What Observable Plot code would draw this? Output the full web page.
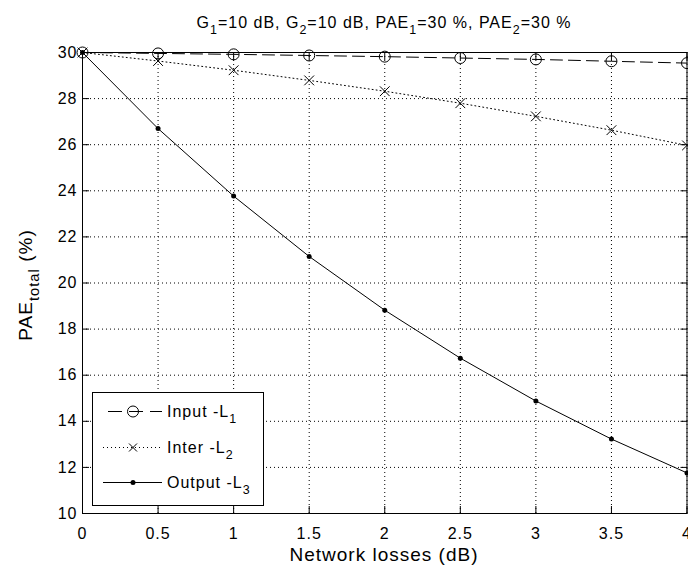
<!DOCTYPE html>
<html>
<head>
<meta charset="utf-8">
<script src="https://cdn.jsdelivr.net/npm/d3@7"></script>
<script src="https://cdn.jsdelivr.net/npm/@observablehq/plot@0.6"></script>
<style>
  html, body { margin: 0; padding: 0; background: white; }
  #chart svg { display: block; }
</style>
</head>
<body>
<div id="chart"></div>
<script>
// Network losses (dB) on the x axis
const losses = [0, 0.5, 1, 1.5, 2, 2.5, 3, 3.5, 4];
// Total PAE (%) when the loss sits at the input, between stages, or at the output
const inputL1 = [30, 29.96, 29.92, 29.87, 29.82, 29.76, 29.7, 29.62, 29.54];
const interL2 = [30, 29.63, 29.23, 28.79, 28.32, 27.8, 27.23, 26.63, 25.97];
const outputL3 = [30, 26.7, 23.77, 21.15, 18.82, 16.74, 14.88, 13.23, 11.76];
// Axis ticks
const xTicks = [0, 0.5, 1, 1.5, 2, 2.5, 3, 3.5, 4];
const yTicks = [10, 12, 14, 16, 18, 20, 22, 24, 26, 28, 30];

const rows = (ys) => losses.map((x, i) => ({x, y: ys[i]}));
const dIn = rows(inputL1), dInter = rows(interL2), dOut = rows(outputL3);

const font = "'Liberation Sans', Arial, Helvetica, sans-serif";
const grid = {stroke: "black", strokeOpacity: 1, strokeWidth: 1, strokeDasharray: "1,3"};
const blank = () => "";

const svg = Plot.plot({
  width: 688,
  height: 567,
  marginLeft: 82,
  marginRight: 1.5,
  marginTop: 52,
  marginBottom: 54,
  x: {domain: [0, 4], label: null},
  y: {domain: [10, 30], label: null},
  style: {fontFamily: font, fontSize: "16px", color: "black", background: "white", letterSpacing: "1px"},
  marks: [
    Plot.gridX(xTicks, grid),
    Plot.gridY(yTicks, grid),
    // inward tick marks on all four sides
    Plot.axisX(xTicks, {anchor: "bottom", tickSize: -7, tickFormat: blank, label: null}),
    Plot.axisX(xTicks, {anchor: "top", tickSize: -7, tickFormat: blank, label: null}),
    Plot.axisY(yTicks, {anchor: "left", tickSize: -7, tickFormat: blank, label: null}),
    Plot.axisY(yTicks, {anchor: "right", tickSize: -7, tickFormat: blank, label: null}),
    // tick labels
    Plot.axisX(xTicks, {anchor: "bottom", tickSize: 0, tickPadding: 14, label: null, fontSize: 16, tickFormat: d => String(d)}),
    Plot.axisY(yTicks, {anchor: "left", tickSize: 0, tickPadding: 5, label: null, fontSize: 16, tickFormat: d => String(d)}),
    Plot.frame({stroke: "black", strokeWidth: 1}),
    // Input -L1: dashed with open circles
    Plot.line(dIn, {x: "x", y: "y", stroke: "black", strokeWidth: 1, strokeDasharray: "12,6"}),
    Plot.dot(dIn, {x: "x", y: "y", r: 5.5, stroke: "black", fill: "none", strokeWidth: 1}),
    // Inter -L2: dotted with crosses
    Plot.line(dInter, {x: "x", y: "y", stroke: "black", strokeWidth: 1, strokeDasharray: "1,3"}),
    Plot.dot(dInter, {x: "x", y: "y", symbol: "times", r: 4.5, stroke: "black", strokeWidth: 1}),
    // Output -L3: solid with filled dots
    Plot.line(dOut, {x: "x", y: "y", stroke: "black", strokeWidth: 1}),
    Plot.dot(dOut, {x: "x", y: "y", r: 2.5, fill: "black", stroke: "none"})
  ]
});

const s = d3.select(svg);

// text with a subscript part
function subText(g, parts, attrs, size) {
  const t = g.append("text").attr("font-family", font).attr("font-size", size)
    .attr("letter-spacing", "1px").attr("fill", "black").attr("text-anchor", "start");
  for (const [k, v] of Object.entries(attrs)) t.attr(k, v);
  let down = false;
  for (const [str, sub] of parts) {
    const ts = t.append("tspan").text(str);
    if (sub && !down) { ts.attr("dy", size * 0.35).attr("font-size", size * 0.78); down = true; }
    else if (sub) { ts.attr("font-size", size * 0.78); }
    else if (!sub && down) { ts.attr("dy", -size * 0.35); down = false; }
  }
  return t;
}

// title
subText(s, [["G", 0], ["1", 1], ["=10 dB, G", 0], ["2", 1], ["=10 dB, PAE", 0], ["1", 1], ["=30 %, PAE", 0], ["2", 1], ["=30 %", 0]],
  {x: 384, y: 28, "text-anchor": "middle"}, 16);

// x axis title
subText(s, [["Network losses (dB)", 0]], {x: 384, y: 561, "text-anchor": "middle"}, 19);

// y axis title
subText(s, [["PAE", 0], ["total", 1], [" (%)", 0]],
  {transform: "translate(32,285) rotate(-90)", "text-anchor": "middle"}, 19);

// legend
const lg = s.append("g");
lg.append("rect").attr("x", 92.5).attr("y", 392.5).attr("width", 171).attr("height", 113)
  .attr("fill", "white").attr("stroke", "black");
const entries = [
  {y: 411.5, label: ["Input -L", "1"], dash: "14,7", x1: 108, marker: "circle"},
  {y: 447.5, label: ["Inter -L", "2"], dash: "1,3", x1: 103, marker: "times"},
  {y: 482.5, label: ["Output -L", "3"], dash: null, x1: 103, marker: "dot"}
];
for (const e of entries) {
  const ln = lg.append("line").attr("x1", e.x1).attr("x2", 162).attr("y1", e.y).attr("y2", e.y)
    .attr("stroke", "black");
  if (e.dash) ln.attr("stroke-dasharray", e.dash);
  if (e.marker === "circle") {
    lg.append("circle").attr("cx", 133).attr("cy", e.y).attr("r", 5.5).attr("fill", "none").attr("stroke", "black");
  } else if (e.marker === "times") {
    lg.append("path").attr("d", `M${133 - 4},${e.y - 4}L${133 + 4},${e.y + 4}M${133 - 4},${e.y + 4}L${133 + 4},${e.y - 4}`)
      .attr("stroke", "black");
  } else {
    lg.append("circle").attr("cx", 133).attr("cy", e.y).attr("r", 2.5).attr("fill", "black");
  }
  subText(lg, [[e.label[0], 0], [e.label[1], 1]], {x: 167, y: e.y + 5.5}, 16);
}

document.getElementById("chart").appendChild(svg);
</script>
</body>
</html>
